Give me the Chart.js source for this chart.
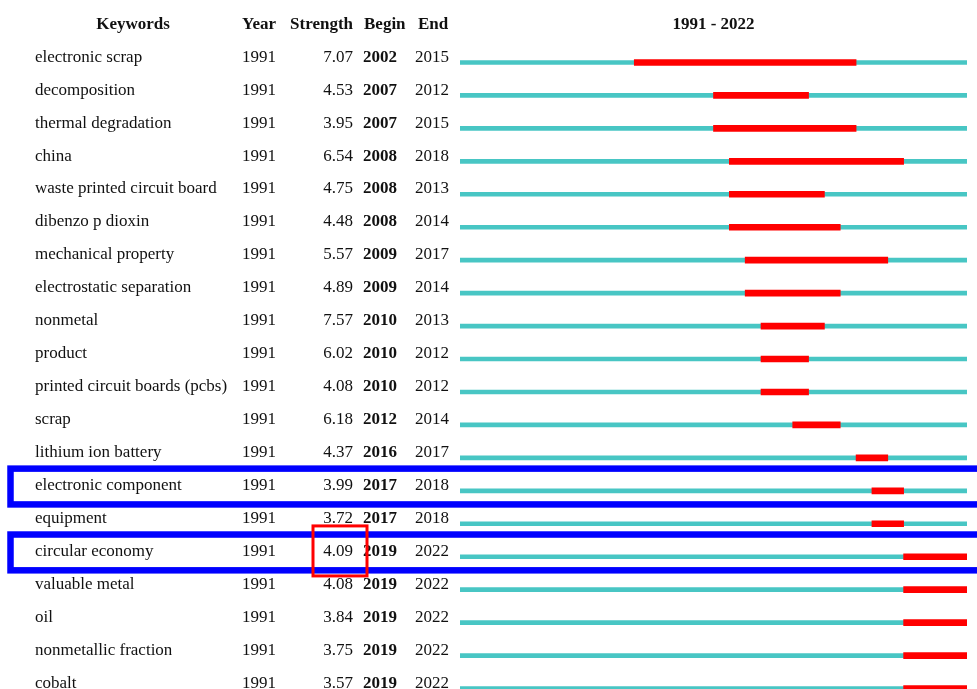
<!DOCTYPE html>
<html><head><meta charset="utf-8">
<script src="https://cdn.jsdelivr.net/npm/chart.js@4/dist/chart.umd.min.js"></script>
<style>
html,body{margin:0;padding:0;background:#fff;overflow:hidden;width:977px;height:689px;}
#wrap{position:absolute;left:0;top:0;width:977px;height:720px;}
</style></head>
<body><div id="wrap"><canvas id="c" width="977" height="720"></canvas></div>
<script>
const keywords = ["electronic scrap","decomposition","thermal degradation","china","waste printed circuit board","dibenzo p dioxin","mechanical property","electrostatic separation","nonmetal","product","printed circuit boards (pcbs)","scrap","lithium ion battery","electronic component","equipment","circular economy","valuable metal","oil","nonmetallic fraction","cobalt"];
const years = [1991,1991,1991,1991,1991,1991,1991,1991,1991,1991,1991,1991,1991,1991,1991,1991,1991,1991,1991,1991];
const strengths = ["7.07","4.53","3.95","6.54","4.75","4.48","5.57","4.89","7.57","6.02","4.08","6.18","4.37","3.99","3.72","4.09","4.08","3.84","3.75","3.57"];
const begins = [2002,2007,2007,2008,2008,2008,2009,2009,2010,2010,2010,2012,2016,2017,2017,2019,2019,2019,2019,2019];
const ends = [2015,2012,2015,2018,2013,2014,2017,2014,2013,2012,2012,2014,2017,2018,2018,2022,2022,2022,2022,2022];
const rangeStart = 1991, rangeEnd = 2022;
const headers = ["Keywords","Year","Strength","Begin","End"];
const blueBoxRows = [13,15];
const redBoxRow = 15;

const burstData = keywords.map((k,i)=>({y:i, x:[begins[i], ends[i]+1]}));
const baseData = keywords.map((k,i)=>({y:i, x:[rangeStart, rangeEnd+1]}));

const tablePlugin = {
  id:'table',
  afterDraw(chart){
    const ctx = chart.ctx, ys = chart.scales.y, area = chart.chartArea;
    ctx.save();
    ctx.fillStyle = '#111';
    ctx.textBaseline = 'alphabetic';
    const hy = 29.3;
    ctx.font = 'bold 17px "Liberation Serif"';
    ctx.textAlign = 'center'; ctx.fillText(headers[0], 133, hy);
    ctx.textAlign = 'left'; ctx.fillText(headers[1], 242, hy);
    ctx.textAlign = 'right'; ctx.fillText(headers[2], 353, hy);
    ctx.textAlign = 'left'; ctx.fillText(headers[3], 364, hy);
    ctx.fillText(headers[4], 418, hy);
    ctx.textAlign = 'center';
    ctx.fillText(rangeStart + ' - ' + rangeEnd, (area.left+area.right)/2, hy);
    for (let i=0;i<keywords.length;i++){
      const y = ys.getPixelForValue(i) - 0.8;
      ctx.font = '17px "Liberation Serif"';
      ctx.textAlign='left'; ctx.fillText(keywords[i], 35, y);
      ctx.fillText(String(years[i]), 242, y);
      ctx.textAlign='right'; ctx.fillText(strengths[i], 353, y);
      ctx.textAlign='left';
      ctx.font = 'bold 17px "Liberation Serif"';
      ctx.fillText(String(begins[i]), 363, y);
      ctx.font = '17px "Liberation Serif"';
      ctx.fillText(String(ends[i]), 415, y);
    }
    // annotation boxes
    ctx.strokeStyle = '#0000ff'; ctx.lineWidth = 6.5;
    blueBoxRows.forEach(r=>{
      const c = ys.getPixelForValue(r);
      ctx.strokeRect(10.5, c-22.2, 1000, 35.8);
    });
    ctx.strokeStyle = '#ff0000'; ctx.lineWidth = 3;
    const rc = ys.getPixelForValue(redBoxRow);
    ctx.strokeRect(313, rc-30.8, 54, 50);
    ctx.restore();
  }
};

new Chart(document.getElementById('c'), {
  type:'bar',
  data:{ datasets:[
    {label:'burst', data:burstData, backgroundColor:'#ff0000', barThickness:6, grouped:false},
    {label:'base', data:baseData, backgroundColor:'#48c6c4', barThickness:4, grouped:false}
  ]},
  options:{
    indexAxis:'y', responsive:false, animation:false, devicePixelRatio:1,
    layout:{padding:{left:460, right:10, top:46, bottom:15}},
    parsing:{xAxisKey:'x', yAxisKey:'y'},
    scales:{
      x:{type:'linear', min:rangeStart, max:rangeEnd+1, display:false},
      y:{type:'linear', min:-0.5, max:keywords.length-0.5, reverse:true, display:false, offset:false}
    },
    plugins:{legend:{display:false}, tooltip:{enabled:false}}
  },
  plugins:[tablePlugin]
});
</script></body></html>
